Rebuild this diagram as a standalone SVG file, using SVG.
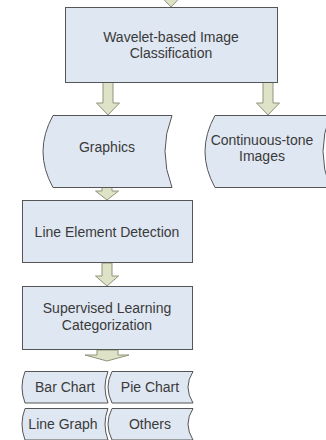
<svg xmlns="http://www.w3.org/2000/svg" width="326" height="440" viewBox="0 0 326 440">
<style>
.box{fill:#dfe7f2;stroke:#555;stroke-width:1}
.arr{fill:#dee3c8;stroke:#8f957a;stroke-width:1}
text{font-family:"Liberation Sans",Arial,sans-serif;font-size:14px;fill:#3a3a3a;text-anchor:middle}
</style>
<rect width="326" height="440" fill="#fff"/>
<g id="connectors">
<path class="arr" d="M166,-20 H176 V-5 H182.5 L171,7 L159.5,-5 H166 Z"/>
<path class="arr" d="M103,82 H113 V103 H119.5 L108,115 L96.5,103 H103 Z"/>
<path class="arr" d="M263,82 H273 V103 H279.5 L268,115 L256.5,103 H263 Z"/>
<path class="arr" d="M102,186 H112 V191 H118.5 L107,200 L95.5,191 H102 Z"/>
<path class="arr" d="M102,263 H112 V276 H118.5 L107,286 L95.5,276 H102 Z"/>
<path class="arr" d="M97,350 H118 V355 H129 L107,361 L85,355 H97 Z"/>
</g>
<g id="wavelet">
<rect class="box" x="65.5" y="7.5" width="212" height="75"/>
<text x="171" y="42">Wavelet-based Image</text>
<text x="171" y="58">Classification</text>
</g>
<g id="graphics">
<path class="box" d="M53,115.5 H172 Q158,151.5 172,187.5 H53 Q33,151.5 53,115.5 Z"/>
<text x="107" y="152">Graphics</text>
</g>
<g id="continuous">
<path class="box" d="M215,115.5 H330 Q316,151.5 330,187.5 H215 Q195,151.5 215,115.5 Z"/>
<text x="262" y="145">Continuous-tone</text>
<text x="262" y="161">Images</text>
</g>
<g id="line-element">
<rect class="box" x="22.5" y="200.5" width="170" height="62"/>
<text x="107" y="237">Line Element Detection</text>
</g>
<g id="supervised">
<rect class="box" x="22.5" y="286.5" width="170" height="63"/>
<text x="107" y="313">Supervised Learning</text>
<text x="107" y="330">Categorization</text>
</g>
<g id="bar-chart">
<path class="box" d="M25,371.5 H108 Q102,387 108,403 H25 Q19,387 25,371.5 Z"/>
<text x="65" y="392">Bar Chart</text>
</g>
<g id="pie-chart">
<path class="box" d="M112,371.5 H193 Q183,387 193,403 H112 Q104,387 112,371.5 Z"/>
<text x="150" y="392">Pie Chart</text>
</g>
<g id="line-graph">
<path class="box" d="M25,408.5 H108 Q102,424 108,440 H25 Q19,424 25,408.5 Z"/>
<text x="63" y="429">Line Graph</text>
</g>
<g id="others">
<path class="box" d="M112,408.5 H193 Q183,424 193,440 H112 Q104,424 112,408.5 Z"/>
<text x="150" y="429">Others</text>
</g>
</svg>
